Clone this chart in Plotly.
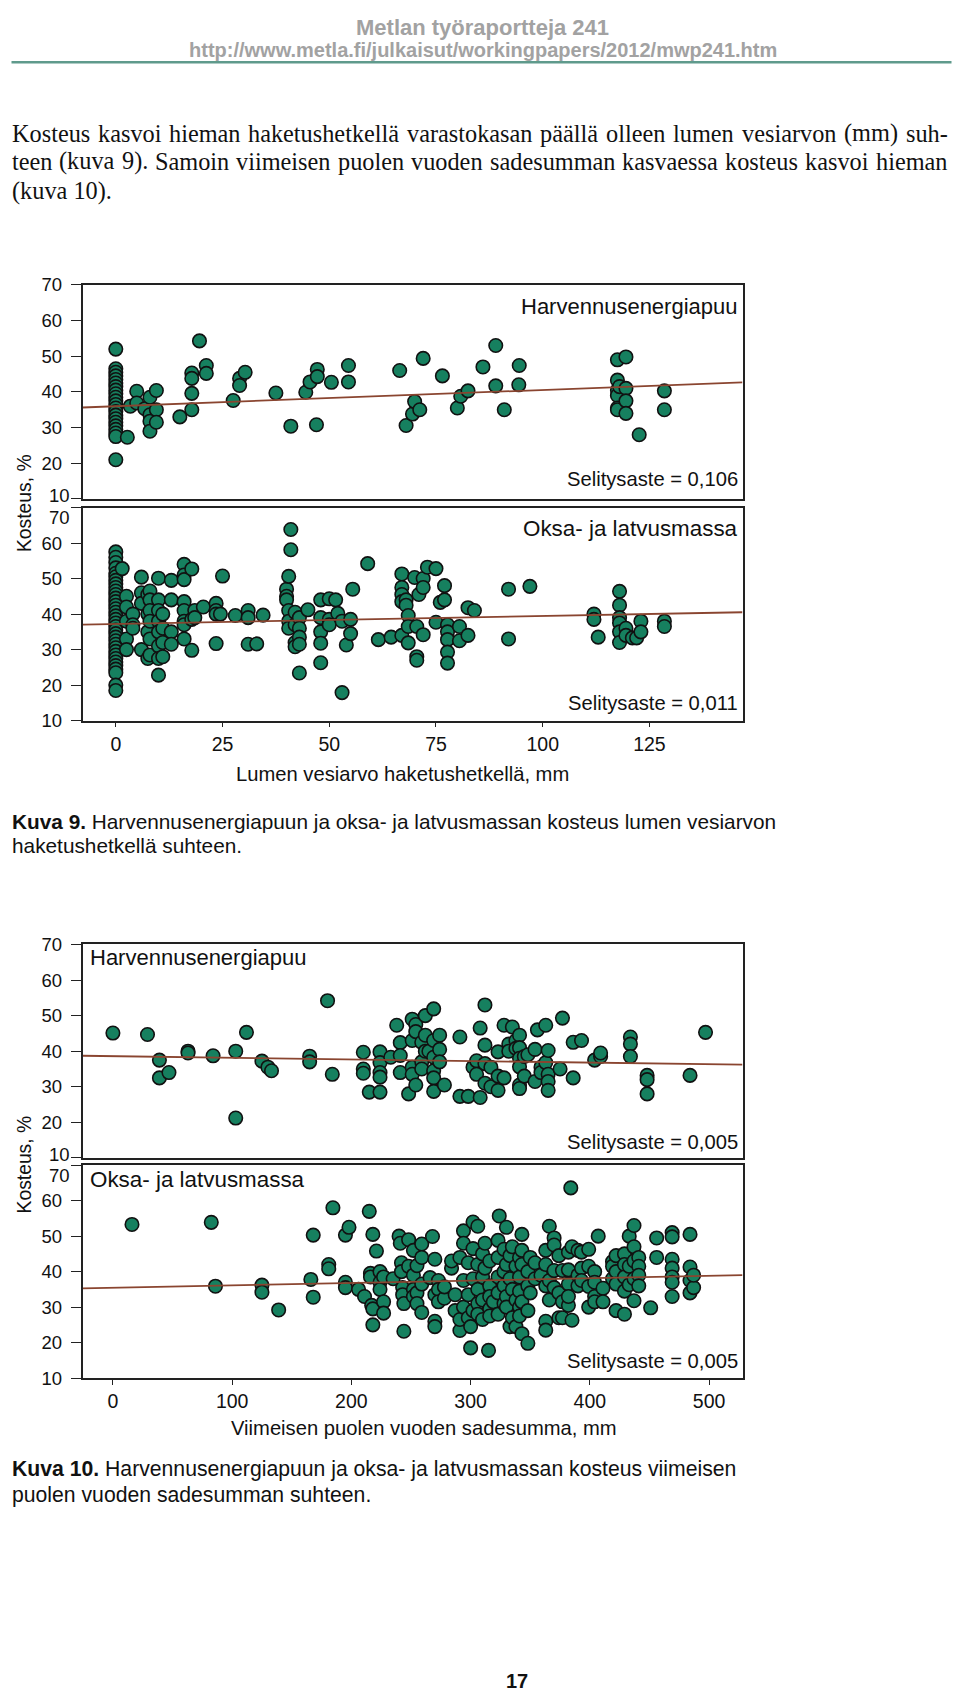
import plotly.graph_objects as go

# ---------------- DATA ----------------
# Kuva 9: lumen vesiarvo (mm) vs kosteus (%)
c9_harv_x = [0, 0, 0, 0, 0, 0, 0, 0, 0, 0, 0, 0, 0, 0, 0, 0, 0, 0, 0, 0, 0, 0,
             2.7, 3.4, 4.9, 4.9, 6.8, 8, 8, 8, 8, 9.5, 9.5, 9.5, 15, 17.8, 17.8, 17.8, 17.8,
             19.6, 21.2, 21.2, 27.5, 29, 29, 30.3, 37.5, 41, 44.5, 45.5, 47, 47.2, 47.2,
             50.5, 54.5, 54.5, 66.5, 68, 69.5, 70, 71.2, 72, 76.5, 80, 80.8, 82.5, 86, 89,
             89, 91, 94.4, 94.5, 117.5, 117.5, 117.5, 117.5, 117.5, 117.5, 118, 119.5, 119.5,
             119.5, 119.5, 122.6, 128.5, 128.5]
c9_harv_y = [52, 46.5, 45.5, 44.5, 43.5, 42.5, 41.5, 40.5, 39.5, 38.5, 37.5, 36.5, 35.5, 34.5,
             33.5, 32.5, 31.5, 30.5, 29.5, 28.5, 27.5, 21,
             27.3, 36, 40.2, 36.9, 35.3, 38.5, 33.6, 31.8, 29, 40.4, 35, 31.5, 33, 45.3, 43.8, 39.6, 35,
             54.3, 47.4, 45.2, 37.6, 43.8, 41.8, 45.5, 39.7, 30.4, 39.9, 42.8, 30.8, 46.3, 44.3,
             42.7, 47.4, 42.8, 46, 30.6, 33.8, 37.3, 35, 49.4, 44.5, 35.5, 38.8, 40.3, 47, 53,
             41.7, 35, 42, 47.4, 49, 43.3, 40.5, 39, 35.5, 35, 41.5, 49.8, 41,
             37.5, 34, 28, 40.3, 35]

c9_oksa_x = [0, 0, 0, 0, 0, 0, 0, 0, 0, 0, 0, 0, 0, 0, 0, 0, 0, 0, 0, 0, 0, 0, 0, 0, 0, 0, 0, 0, 0, 0, 0, 0, 0, 0, 0,
             1.5, 2.5, 2.5, 2.5, 2.5, 2.5, 4, 4, 4, 6, 6, 6, 6, 7.5, 7.5, 7.5, 7.5, 8, 8, 8, 8, 8, 8,
             10, 10, 10, 10, 10, 10, 10, 10, 11, 11, 11, 11, 13, 13, 13, 13, 16, 16, 16, 16, 16, 16, 16, 16,
             17.8, 17.8, 17.8, 18.5, 18.5, 20.5, 23.5, 23.5, 23.5, 23.5, 25, 24.5, 28, 31, 31, 31, 33, 34.5,
             40, 40, 40, 40.5, 40.5, 40.5, 40.5, 41, 41, 42, 42, 42, 42, 43, 43, 43, 43, 43, 45,
             48, 48, 48, 48, 48, 50, 50, 50, 51.5, 52, 53, 53, 54, 55, 55, 55.5, 59, 61.5, 64.5,
             67, 67, 67, 67, 67, 68, 68, 68.5, 68.5, 68.5, 70, 70.5, 70.5, 70.5, 71, 72, 72, 72, 73,
             75, 75, 76, 77, 77, 77.7, 77.7, 77.7, 77.7, 77.7, 80.5, 80.5, 82.5, 82.5, 84, 92, 92, 97,
             112, 112, 113, 118, 118, 118, 118, 118, 118, 119.5, 119.5, 121, 122, 123, 123, 128.5, 128.5]
c9_oksa_y = [57.5, 56, 54.5, 53, 51.5, 50.5, 49.5, 48.5, 47.5, 46.5, 45.5, 44.5, 43.5, 42.5, 41.5, 40.5,
             39.5, 38.5, 37.5, 36.5, 35.5, 34.5, 33.5, 32.5, 31.5, 30.5, 29.5, 28.5, 27.5, 26.5, 25.5,
             24.5, 23.5, 20, 18.5,
             52.8, 45, 42, 38, 33, 30, 40, 37, 36, 50.4, 46, 43, 30, 45.5, 40, 35, 27.5, 46.5, 44, 41, 38, 33, 28.5,
             50.1, 44, 41, 38, 35, 31, 27.5, 22.8, 40, 36, 32, 28, 49.5, 44, 35, 31.5, 54, 51, 49.7, 43.5, 41, 38, 37, 33,
             52.7, 38.5, 29.8, 41, 39, 42, 43, 41, 40, 31.7, 50.7, 40, 39.6, 41, 39, 31.5, 31.6, 39.7,
             47, 45, 44, 50.6, 41, 38, 36, 63.8, 58.1, 40.5, 37, 32, 30.8, 39, 36, 33.5, 31.5, 23.4, 41.2,
             44, 39, 35, 31.8, 26.3, 44.3, 38.5, 37, 44, 40.2, 38, 17.9, 31.3, 34.5, 38.5, 47, 54.2, 32.8, 33.5,
             51.3, 47.5, 45.5, 43.5, 34, 44, 42.5, 39.6, 36.5, 31.9, 50.3, 36.5, 28, 27, 45.5, 50, 47.5, 34.2, 53.2,
             52.8, 37.7, 43.3, 48, 44, 37, 35, 32.8, 29.3, 26.2, 36.5, 32.5, 41.8, 34, 41, 47, 33, 47.8,
             40, 38.5, 33.5, 46.4, 42.5, 39, 37.5, 35, 32, 36, 34, 33.3, 33.3, 38, 35, 38, 36.5]

# Kuva 10: viimeisen puolen vuoden sadesumma (mm) vs kosteus (%)
c10_harv_x = [0, 29, 39, 39, 47, 63, 63, 84, 103, 103, 112, 125, 130, 133, 165, 165, 180, 184,
              210, 210, 210, 215, 224, 224, 224, 224, 224, 233, 238, 241, 241, 241, 248, 251, 251,
              251, 251, 254, 254, 254, 259, 259, 259, 262, 262, 262, 265, 269, 269, 269, 269, 269,
              269, 274, 274, 274, 278, 291, 291, 298, 302, 305, 305, 308, 308, 312, 312, 312, 312,
              317, 317, 323, 323, 323, 328, 328, 332, 332, 335, 338, 338, 341, 341, 341, 341, 341,
              341, 345, 345, 348, 354, 354, 356, 359, 359, 363, 363, 365, 365, 365, 365, 375, 377,
              386, 386, 393, 404, 409, 409, 434, 434, 434, 448, 448, 448, 484, 497]
c10_harv_y = [45.1, 44.7, 37.5, 32.5, 34, 40, 39.5, 38.7, 40, 21.2, 45.3, 37.2, 35.5, 34.5, 38.6, 37, 54.2, 33.5,
              39.7, 35, 33.8, 28.5, 39.8, 36.8, 34, 32.7, 28.5, 38.3, 47.3, 42.4, 38.8, 34, 28, 49, 43,
              35.5, 33.5, 47.5, 45.5, 30.5, 42.5, 37, 35, 50, 44.5, 40, 40, 51.9, 43, 38.3, 34.5, 32.5,
              28.7, 44.5, 40.5, 37, 30.5, 44, 27.3, 27.3, 35.5, 37.3, 33.5, 46.5, 27, 53, 41.7, 36.5, 31,
              35.5, 30, 39.8, 33, 29, 47.3, 32.5, 42, 40, 46.8, 43, 40.8, 44.5, 41, 38, 35.6, 30.5,
              29.5, 38.5, 33, 39, 40.5, 31.5, 46, 35.5, 34, 47.3, 36.8, 40.2, 33.5, 31.5, 29, 35, 49.3,
              42.5, 32.5, 43, 37.5, 38.5, 39.5, 44, 42, 38.5, 33.2, 32, 28, 33.2, 45.3]

c10_oksa_x = [16, 82.5, 86, 125, 125, 139, 166, 168, 168, 181, 181, 184.5, 195, 198, 195, 195, 206, 211,
              215, 216, 216, 217, 218, 218, 218, 221, 224, 224, 224, 227, 227, 227, 235,
              240, 241, 242, 242, 243, 243, 244, 244, 248, 248, 252, 252, 252, 252, 255, 255, 255,
              259, 259, 259, 259, 266, 268, 270, 270, 270, 270, 273, 273, 273, 278, 278, 284, 284,
              287, 287, 291, 291, 291, 294, 294, 294, 294, 298, 298, 298, 300, 300, 302, 302, 302, 302,
              306, 306, 306, 306, 306, 310, 310, 310, 310, 312, 312, 315, 316, 316, 316, 316, 316, 319,
              323, 323, 323, 323, 323, 324, 328, 328, 328, 328, 330, 330, 330, 330, 333, 333, 333,
              335, 335, 335, 338, 338, 338, 341, 341, 341, 341, 341, 343, 343, 343, 343, 343,
              348, 348, 348, 348, 350, 350, 354, 354, 359, 363, 363, 363, 363, 363, 366, 366, 366,
              370, 370, 370, 370, 374, 374, 374, 377, 377, 377, 382, 382, 382, 382, 382, 384, 385, 385,
              390, 390, 390, 393, 393, 393, 399, 399, 399, 399, 404, 404, 404, 404, 407, 411, 411,
              419, 419, 419, 422, 422, 422, 422, 429, 429, 429, 429, 429, 433, 433, 433, 437, 437, 437,
              437, 437, 441, 441, 441, 441, 451, 456, 456, 469, 469, 469, 469, 469, 469, 469,
              484, 484, 484, 484, 487, 487]
c10_oksa_y = [53.3, 53.9, 35.9, 36.2, 34.2, 29.2, 37.8, 50.3, 32.8, 42, 40.8, 58, 50.3, 52.5, 37, 35.5, 35, 33,
              57, 39.5, 38.5, 30.5, 29.5, 25, 50.5, 45.8, 40, 37, 35, 38.5, 31.5, 28.3, 38,
              50, 48, 42.5, 40, 35.5, 33.5, 31, 23.2, 49, 41.5, 46, 39, 35, 33, 41.7, 34, 31,
              47.8, 44, 36.5, 28.5, 38.3, 49.9, 43.5, 33.5, 26, 24.5, 37.5, 35, 31.5, 32.5, 35.7, 41, 43,
              33.5, 29, 23.4, 26.5, 44, 51.5, 48, 37.5, 30, 42.5, 33.5, 27, 18.5, 24.5, 54, 46.5, 38, 29,
              52.8, 42, 35, 31, 28, 45, 38.5, 32, 26.5, 48, 41, 17.8, 43, 36, 33, 29.5, 27.5, 31.5,
              48.8, 44, 38.5, 34, 28, 55.7, 46.3, 40, 36, 31, 52.5, 42, 33, 30, 24.5, 38, 44.5,
              47, 35, 27, 41.5, 32, 24.5, 44, 38.5, 34.5, 30, 27.5, 50.5, 46, 42, 31.5, 22.5,
              40, 36, 29, 19.8, 44, 34, 42.5, 38, 39, 46, 42, 36, 26, 23.5, 52.8, 37.5, 32,
              49.5, 47.5, 40.3, 35.5, 44.5, 34, 27, 40.3, 31.5, 27, 45.5, 40.5, 36.5, 30.5, 33, 63.6, 47, 26.3,
              46, 39, 36, 45.5, 41, 37.5, 46.3, 41.5, 35.8, 30, 40, 37, 33, 31.5, 50, 35.3, 31.5,
              42.8, 41.5, 38, 44.5, 40, 36.5, 29, 45, 42, 38.5, 34.5, 28, 50, 41.5, 36.3, 53, 47, 43,
              38, 31.8, 44, 41.5, 39, 36, 29.8, 49.5, 44, 51, 49.8, 43.5, 41, 38.5, 37, 33,
              50.5, 41.3, 37.5, 34, 35.5, 39]

# regression lines (intercept, slope)
fit_c9_harv = (36.0, 0.0455)
fit_c9_oksa = (37.2, 0.0226)
fit_c10_harv = (38.6, -0.00452)
fit_c10_oksa = (35.47, 0.00668)

r2_labels = ["Selitysaste = 0,106", "Selitysaste = 0,011", "Selitysaste = 0,005", "Selitysaste = 0,005"]
panel_labels = ["Harvennusenergiapuu", "Oksa- ja latvusmassa", "Harvennusenergiapuu", "Oksa- ja latvusmassa"]
y_ticks = [10, 20, 30, 40, 50, 60, 70]
y_ticktext_top = ["", "20", "30", "40", "50", "60", "70"]
y_ticktext_bottom = ["10", "20", "30", "40", "50", "60", ""]
x_ticks_c9 = [0, 25, 50, 75, 100, 125]
x_ticks_c10 = [0, 100, 200, 300, 400, 500]
x_range_c9 = [-7.8, 146.8]
x_range_c10 = [-25.5, 528]
y_range = [10, 70]

header_title = "Metlan työraportteja 241"
header_url = "http://www.metla.fi/julkaisut/workingpapers/2012/mwp241.htm"
para_lines = [
    "Kosteus kasvoi hieman haketushetkellä varastokasan päällä olleen lumen vesiarvon (mm) suh-",
    "teen (kuva 9). Samoin viimeisen puolen vuoden sadesumman kasvaessa kosteus kasvoi hieman",
    "(kuva 10).",
]
para_justified = [True, True, False]
cap9 = ["<b>Kuva 9.</b> Harvennusenergiapuun ja oksa- ja latvusmassan kosteus lumen vesiarvon",
        "haketushetkellä suhteen."]
cap10 = ["<b>Kuva 10.</b> Harvennusenergiapuun ja oksa- ja latvusmassan kosteus viimeisen",
         "puolen vuoden sadesumman suhteen."]
xtitle_c9 = "Lumen vesiarvo haketushetkellä, mm"
xtitle_c10 = "Viimeisen puolen vuoden sadesumma, mm"
ytitle = "Kosteus, %"
page_no = "17"

# ---------------- LAYOUT HELPERS ----------------
# px/py convert target window pixels to paper fractions (measured placement of the figure)
FW, FH = 944, 1696
OX = 7.5
OY, SY = 17.8, 0.987
SANS = "Liberation Sans, Arial, Helvetica, sans-serif"
SERIF = "Liberation Serif, Times New Roman, serif"
GREEN = "#16805f"
LINE = "#8a4530"

# Times / Liberation Serif advance widths (1/1000 em), used to justify the paragraph
SERIF_W = {" ": 250, "(": 333, ")": 333, ",": 250, "-": 333, ".": 250, "K": 722, "S": 556,
           "a": 444, "b": 500, "c": 444, "d": 500, "e": 444, "f": 333, "g": 500, "h": 500,
           "i": 278, "j": 278, "k": 500, "l": 278, "m": 778, "n": 500, "o": 500, "p": 500,
           "r": 333, "s": 389, "t": 278, "u": 500, "v": 500, "w": 722, "y": 500, "ä": 444,
           "ö": 500}


def serif_width(s, size):
    return sum(SERIF_W.get(c, 500) for c in s) / 1000.0 * size


def px(x):
    return (x - OX) / FW


def py(y):
    return 1 - ((y - OY) / SY) / FH


X0, X1 = 82, 742
panels = [  # (top px, bottom px) in window pixels
    (283.5, 497.5),
    (506, 719),
    (942.7, 1156),
    (1163.3, 1376),
]
datasets = [
    (c9_harv_x, c9_harv_y, fit_c9_harv, x_range_c9),
    (c9_oksa_x, c9_oksa_y, fit_c9_oksa, x_range_c9),
    (c10_harv_x, c10_harv_y, fit_c10_harv, x_range_c10),
    (c10_oksa_x, c10_oksa_y, fit_c10_oksa, x_range_c10),
]

fig = go.Figure()
for i, (xs, ys, fit, xr) in enumerate(datasets):
    n = "" if i == 0 else str(i + 1)
    fig.add_trace(go.Scatter(
        x=xs, y=ys, mode="markers", xaxis="x" + n, yaxis="y" + n,
        marker=dict(size=13.5, color=GREEN, line=dict(color="#111111", width=1.6)),
        showlegend=False, hoverinfo="x+y"))
    a, b = fit
    fig.add_trace(go.Scatter(
        x=[xr[0], xr[1]], y=[a + b * xr[0], a + b * xr[1]], mode="lines",
        xaxis="x" + n, yaxis="y" + n, line=dict(color=LINE, width=1.8),
        showlegend=False, hoverinfo="skip"))

layout = dict(
    width=FW, height=FH, autosize=False,
    margin=dict(l=0, r=0, t=0, b=0),
    paper_bgcolor="white", plot_bgcolor="white",
    font=dict(family=SANS, color="#111111"),
)
for i, (top, bot) in enumerate(panels):
    n = "" if i == 0 else str(i + 1)
    bottom_panel = i in (1, 3)
    xr = datasets[i][3]
    xt = x_ticks_c9 if i < 2 else x_ticks_c10
    layout["xaxis" + n] = dict(
        domain=[px(X0), px(X1)], range=xr, anchor="y" + n,
        showline=True, mirror=True, linecolor="#222222", linewidth=1.5,
        showgrid=False, zeroline=False,
        tickvals=xt if bottom_panel else [], showticklabels=bottom_panel,
        ticks="outside" if bottom_panel else "", ticklen=5, tickcolor="#222222",
        tickfont=dict(size=19.5, family=SANS, color="#111111"),
        ticklabelstandoff=0,
    )
    layout["yaxis" + n] = dict(
        domain=[py(bot), py(top)], range=y_range, anchor="x" + n,
        showline=True, mirror=True, linecolor="#222222", linewidth=1.5,
        showgrid=False, zeroline=False, tickvals=y_ticks,
        ticktext=y_ticktext_bottom if bottom_panel else y_ticktext_top,
        ticks="outside", ticklen=10, tickcolor="#222222",
        tickfont=dict(size=18.5, family=SANS, color="#111111"),
        ticklabelstandoff=5,
    )

ann = []


def add_text(text, x, y, size, xanchor="left", family=SANS, color="#111111", angle=0, pad=1):
    ann.append(dict(text=text, x=px(x), y=py(y), xref="paper", yref="paper",
                    xanchor=xanchor, yanchor="middle", showarrow=False, textangle=angle,
                    borderpad=pad, borderwidth=0 if pad == 0 else 1,
                    font=dict(size=size, family=family, color=color)))


# header
add_text("<b>" + header_title + "</b>", 482, 26.5, 22, "center", color="#a2a2a2")
add_text("<b>" + header_url + "</b>", 482, 49, 20, "center", color="#a2a2a2")

# paragraph (justified between the page margins like the original)
PARA_SIZE = 24.3
PARA_LEFT, PARA_RIGHT = 11, 947
for line, y, just in zip(para_lines, [132, 160, 190], para_justified):
    if not just:
        add_text(line, PARA_LEFT, y, PARA_SIZE, "left", family=SERIF, pad=0)
        continue
    words = line.split(" ")
    widths = [serif_width(w, PARA_SIZE) for w in words]
    gap = (PARA_RIGHT - PARA_LEFT - sum(widths)) / (len(words) - 1)
    xpos = PARA_LEFT
    for w, wd in zip(words, widths):
        add_text(w, xpos, y, PARA_SIZE, "left", family=SERIF, pad=0)
        xpos += wd + gap

# the "10" of upper panels and "70" of lower panels are nudged apart, as in the original
add_text(y_ticks[0], 69, panels[0][1] - 3, 18.5, "right", pad=0)
add_text(y_ticks[0], 69, panels[2][1] - 3, 18.5, "right", pad=0)
add_text(y_ticks[-1], 69, panels[1][0] + 10, 18.5, "right", pad=0)
add_text(y_ticks[-1], 69, panels[3][0] + 10, 18.5, "right", pad=0)
# panel labels
add_text(panel_labels[0], 739, 305, 22, "right")
add_text(r2_labels[0], 739, 478, 20.2, "right")
add_text(panel_labels[1], 739, 527, 22.4, "right")
add_text(r2_labels[1], 739, 701, 20.2, "right")
add_text(panel_labels[2], 87, 956, 22, "left")
add_text(r2_labels[2], 739, 1140, 20.2, "right")
add_text(panel_labels[3], 87, 1178, 22.4, "left")
add_text(r2_labels[3], 739, 1359, 20.2, "right")
# axis titles
add_text(xtitle_c9, 402, 772, 20.2, "center")
add_text(xtitle_c10, 423, 1426, 20.2, "center")
add_text(ytitle, 24, 502, 19.3, "center", angle=-90)
add_text(ytitle, 24, 1163, 19.3, "center", angle=-90)
# captions
add_text(cap9[0], 9, 820, 20.8, "left")
add_text(cap9[1], 9, 844, 20.8, "left")
add_text(cap10[0], 9, 1467, 21.2, "left")
add_text(cap10[1], 9, 1493, 21.2, "left")
# page number
add_text("<b>" + page_no + "</b>", 516, 1679, 20, "center")

layout["annotations"] = ann
layout["shapes"] = [dict(type="line", xref="paper", yref="paper",
                         x0=px(11), x1=px(951), y0=py(61), y1=py(61),
                         line=dict(color="#5f9a8c", width=2.5))]
fig.update_layout(**layout)
fig.write_html("out.html")
